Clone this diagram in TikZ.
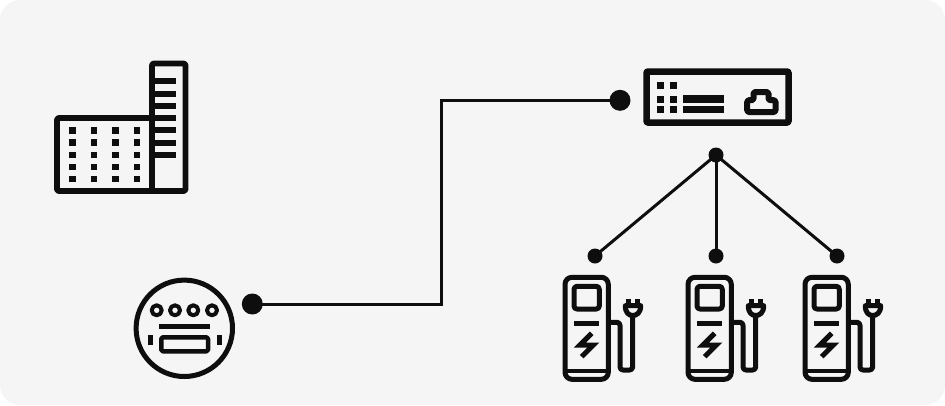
\documentclass[tikz,border=0pt]{standalone}
\definecolor{ink}{HTML}{0E0E0E}
\definecolor{panel}{HTML}{F5F5F5}
\tikzset{
  x=1pt,y=-1pt,
  icon/.style={draw=ink,line width=#1,fill=none,line join=round},
  icon/.default=5pt,
  solid ink/.style={fill=ink,draw=none},
  dotbig/.style={circle,fill=ink,draw=none,minimum size=21pt,inner sep=0pt},
  dotsmall/.style={circle,fill=ink,draw=none,minimum size=15pt,inner sep=0pt},
  wire/.style={draw=ink,line width=3pt,line join=miter},
  charger/.pic={
    \draw[icon,rounded corners=7pt] (565,379.3) -- (565,277.3) -- (608.3,277.3) -- (608.3,379.3) -- cycle;
    \draw[icon=4pt] (565,371) -- (608.3,371);
    \draw[icon,rounded corners=3pt] (574,286.3) rectangle (599.3,309);
    \draw[icon] (574,323.7) -- (598.7,323.7);
    \draw[icon,line join=miter] (591.7,333.3) -- (580,345) -- (593.3,345) -- (581.7,356.7);
    \draw[icon,rounded corners=3pt] (608,322.3) -- (620,322.3) -- (620,370) -- (632.7,370) -- (632.7,315);
    \draw[icon] (625.3,305.7) .. controls (625.3,313) and (629,315.5) .. (632.7,315.5) .. controls (636.5,315.5) and (640.7,313) .. (640.7,305.7) -- cycle;
    \draw[icon] (628,299) -- (628,305.7) (637.7,299) -- (637.7,305.7);
  }
}
\begin{document}
\begin{tikzpicture}
\useasboundingbox (0,0) rectangle (945,405);
\fill[white] (0,0) rectangle (945,405);
\fill[panel,rounded corners=20pt] (0,0) rectangle (945,405);

% building
\draw[icon=5.8pt,rounded corners=2pt] (152,118) -- (57,118) -- (57,191) -- (185.5,191) -- (185.5,63.5) -- (152,63.5) -- cycle;
\draw[icon=5.8pt] (152,118) -- (152,191);
\foreach \y in {81.3,93.7,106,118.3,130.3,142.7,155}
  \draw[icon=5.8pt,line cap=butt] (152,\y) -- (176.3,\y);
\foreach \x in {72.3,93.7,115.3,136.7}
  \foreach \y in {130.3,142.3,154.7,166.7,179}
    \fill[solid ink] (\x-3.2,\y-3.2) rectangle (\x+3.2,\y+3.2);

% meter
\draw[icon=5pt] (184.3,328.3) circle[radius=48.2pt];
\foreach \x in {156.7,175,193.3,212}
  \draw[icon=4pt] (\x,310.3) circle[radius=5pt];
\draw[icon=5pt] (159,326) -- (210,326);
\draw[icon=4.5pt,rounded corners=1.5pt] (161.3,337.3) rectangle (208,351.3);
\fill[solid ink] (147.5,335.3) rectangle (152.5,344.7);
\fill[solid ink] (216.5,335.3) rectangle (221.5,344.7);

% switch
\draw[icon=6.5pt,rounded corners=1pt] (646.5,71.5) rectangle (788.5,122.5);
\foreach \x in {660,673.3}
  \foreach \y in {85.3,99,109.3}
    \fill[solid ink] (\x-3.5,\y-3.5) rectangle (\x+3.5,\y+3.5);
\foreach \y in {99,109.3}
  \fill[solid ink] (683.3,\y-3.6) rectangle (724.3,\y+3.6);
\draw[icon=6pt,rounded corners=1.5pt] (747.2,112) -- (747.2,100.2) -- (753.5,100.2) -- (753.5,92) -- (768.5,92) -- (768.5,100.2) -- (775.5,100.2) -- (775.5,112) -- cycle;

% chargers
\pic at (0,0) {charger};
\pic at (123,0) {charger};
\pic at (240,0) {charger};

% connection points
\node[dotbig] (meterdot) at (252.3,304) {};
\node[dotbig] (switchdot) at (620,100.3) {};
\coordinate (bend) at (441,100.3);
\node[dotsmall] (hub) at (716,155) {};
\node[dotsmall] (ca) at (595,256) {};
\node[dotsmall] (cb) at (716,256) {};
\node[dotsmall] (cc) at (837,256) {};

\draw[wire] (meterdot.center) -| (bend) -- (switchdot.center);
\draw[wire] (hub.center) -- (ca.center);
\draw[wire] (hub.center) -- (cb.center);
\draw[wire] (hub.center) -- (cc.center);
\end{tikzpicture}
\end{document}
